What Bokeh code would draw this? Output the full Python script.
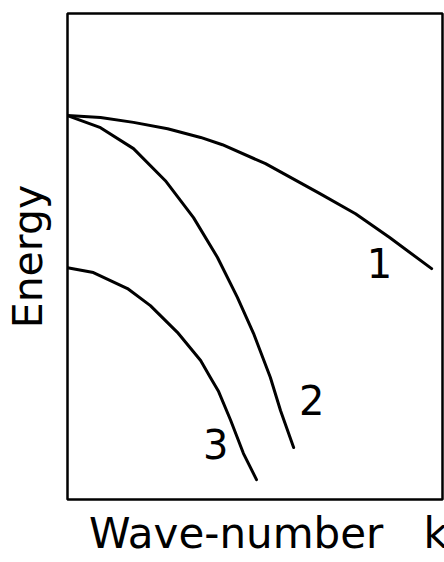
from bokeh.plotting import figure
from bokeh.models import Label, Range1d, FixedTicker
from bokeh.embed import file_html
from bokeh.resources import INLINE

# Wave-number k (normalised) and Energy (normalised)
k1 = [0.000, 0.088, 0.176, 0.267, 0.355, 0.413, 0.528, 0.672, 0.768, 0.859, 0.971]
e1 = [0.790, 0.786, 0.776, 0.763, 0.745, 0.730, 0.691, 0.630, 0.588, 0.539, 0.475]

k2 = [0.000, 0.088, 0.176, 0.261, 0.336, 0.400, 0.453, 0.496, 0.541, 0.568, 0.603]
e2 = [0.790, 0.765, 0.722, 0.656, 0.580, 0.498, 0.416, 0.342, 0.251, 0.183, 0.107]

k3 = [0.000, 0.069, 0.160, 0.221, 0.293, 0.355, 0.381, 0.403, 0.435, 0.469, 0.504]
e3 = [0.477, 0.467, 0.434, 0.399, 0.344, 0.286, 0.251, 0.222, 0.163, 0.095, 0.041]

curve_names = ["1", "2", "3"]
name_k = [0.832, 0.651, 0.395]
name_e = [0.486, 0.204, 0.115]

NB = "\u00a0"
x_title = NB * 2 + "Wave-number" + NB * 3 + "k"
y_title = "Energy"

FONT = "DejaVu Sans"

p = figure(width=444, height=562, output_backend="svg", toolbar_location=None,
           x_range=Range1d(0, 1), y_range=Range1d(0, 1),
           min_border_left=67, min_border_right=2, min_border_top=13, min_border_bottom=63)
p.xgrid.visible = False
p.ygrid.visible = False
p.outline_line_color = "black"
p.outline_line_width = 2.5
p.outline_line_alpha = 1.0
p.background_fill_color = "white"
p.border_fill_color = "white"


def style_axis(ax, label, size, standoff):
    ax.ticker = FixedTicker(ticks=[])
    ax.axis_line_color = None
    ax.major_tick_out = 0
    ax.major_tick_in = 0
    ax.minor_tick_out = 0
    ax.minor_tick_in = 0
    ax.major_label_standoff = 0
    ax.axis_label = label
    ax.axis_label_text_font = FONT
    ax.axis_label_text_font_size = size
    ax.axis_label_text_font_style = "normal"
    ax.axis_label_text_color = "black"
    ax.axis_label_standoff = standoff


style_axis(p.yaxis[0], y_title, "41px", 16)
style_axis(p.xaxis[0], x_title, "42px", 9)

for kx, ey in [(k1, e1), (k2, e2), (k3, e3)]:
    p.line(kx, ey, line_color="black", line_width=3, line_cap="round", line_join="round")

for name, kx, ey in zip(curve_names, name_k, name_e):
    p.add_layout(Label(x=kx, y=ey, text=name, text_font=FONT, text_font_size="40px",
                       text_color="black", text_align="center", text_baseline="middle"))

open("out.html", "w").write(file_html(p, INLINE))
